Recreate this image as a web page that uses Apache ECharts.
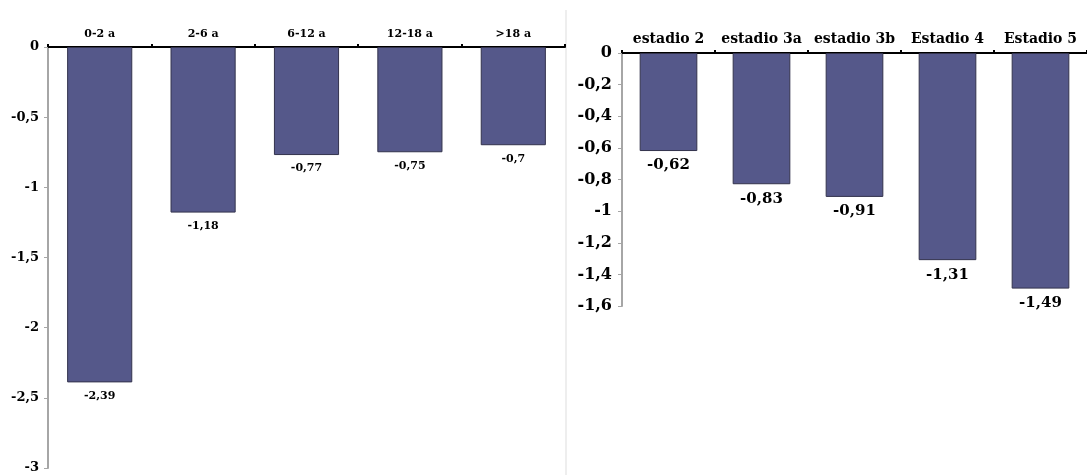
<!DOCTYPE html>
<html><head><meta charset="utf-8">
<script src="https://cdn.jsdelivr.net/npm/echarts@6/dist/echarts.min.js"></script>
<style>html,body{margin:0;padding:0;background:#fff}#c{width:1087px;height:475px}</style>
</head><body><div id="c"></div>
<script>
const ageCategories = ['0-2 a', '2-6 a', '6-12 a', '12-18 a', '>18 a'];
const ageValues = [-2.39, -1.18, -0.77, -0.75, -0.7];
const stageCategories = ['estadio 2', 'estadio 3a', 'estadio 3b', 'Estadio 4', 'Estadio 5'];
const stageValues = [-0.62, -0.83, -0.91, -1.31, -1.49];

const FONT = 'DejaVu Serif';
const BAR = '#55588a';
const comma = v => String(+v.toFixed(2)).replace('.', ',');

function xAx(idx, cats, size) {
  return {
    type: 'category', gridIndex: idx, data: cats, position: 'top',
    axisLine: { lineStyle: { color: '#000', width: 2 } },
    axisTick: { show: true, length: 3, lineStyle: { color: '#000', width: 2 } },
    axisLabel: { interval: 0, color: '#000', fontFamily: FONT, fontWeight: 'bold', fontSize: size, margin: 7 }
  };
}
function yAx(idx, min, interval, size, margin) {
  return {
    type: 'value', gridIndex: idx, min: min, max: 0, interval: interval,
    splitLine: { show: false },
    axisLine: { show: true, lineStyle: { color: '#a6a6a6', width: 2 } },
    axisTick: { show: true, length: 4, lineStyle: { color: '#a6a6a6' } },
    axisLabel: { color: '#000', fontFamily: FONT, fontWeight: 'bold', fontSize: size, margin: margin, formatter: comma }
  };
}
function bars(idx, vals, size, dist, w) {
  return {
    type: 'bar', xAxisIndex: idx, yAxisIndex: idx, data: vals, barWidth: w,
    itemStyle: { color: BAR, borderColor: '#33334d', borderWidth: 1 },
    label: { show: true, position: 'bottom', distance: dist, color: '#000', fontFamily: FONT,
      fontWeight: 'bold', fontSize: size, formatter: p => comma(p.value) },
    animation: false
  };
}

const chart = echarts.init(document.getElementById('c'));
chart.setOption({
  animation: false,
  grid: [
    { left: 48, top: 47, width: 517, height: 421 },
    { left: 622, top: 53, width: 467, height: 253 }
  ],
  xAxis: [xAx(0, ageCategories, 11), xAx(1, stageCategories, 14)],
  yAxis: [yAx(0, -3, 0.5, 13, 9), yAx(1, -1.6, 0.2, 16, 10)],
  series: [bars(0, ageValues, 11, 8, '63%'), bars(1, stageValues, 15, 7, '62%')],
  graphic: [{ type: 'line', shape: { x1: 566, y1: 10, x2: 566, y2: 475 }, style: { stroke: '#e8e8e8', lineWidth: 1.5 } }]
});
</script></body></html>
